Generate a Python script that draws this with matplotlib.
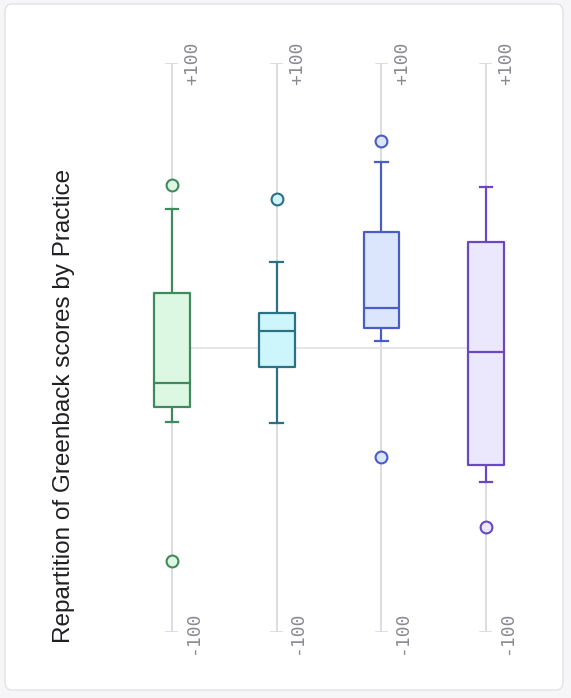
import matplotlib
matplotlib.use("Agg")
import matplotlib.pyplot as plt
from matplotlib.patches import FancyBboxPatch

# box statistics (scores, -100..+100)
practices = ["Practice A", "Practice B", "Practice C", "Practice D"]
q1 = [-20.8, -7.0, 6.7, -41.3]
med = [-12.6, 5.7, 13.8, -1.5]
q3 = [19.3, 12.0, 40.7, 37.0]
whislo = [-26.3, -26.4, 2.3, -47.4]
whishi = [48.6, 30.0, 65.3, 56.3]
fliers = [[57.0, -75.0], [52.2], [72.6, -38.5], [-63.0]]
tick_labels = ["-100", "+100"]

edge_colors = ["#3f8a5c", "#2b7083", "#4a5cc6", "#6a48c2"]
fill_colors = ["#dcf8e3", "#ccf6fc", "#dbe6fc", "#ebe7fd"]

fig = plt.figure(figsize=(5.71, 6.98), dpi=100)
fig.patch.set_facecolor("#f6f6f8")

# card background
card = FancyBboxPatch((5 / 571, 8 / 698), 558 / 571, 686 / 698,
                      boxstyle="round,pad=0,rounding_size=0.012",
                      transform=fig.transFigure, facecolor="white",
                      edgecolor="#e2e2e6", linewidth=1.0, zorder=-5)
fig.patches.append(card)

ax = fig.add_axes([119.7 / 571, 66 / 698, 418.7 / 571, 569 / 698])
ax.set_zorder(2)
ax.set_facecolor("none")
ax.set_xlim(-0.5, 3.5)
ax.set_ylim(-100, 100)
ax.axis("off")

positions = list(range(len(practices)))

# per-practice axis lines with end ticks and labels
for p in positions:
    ax.plot([p, p], [-100, 100], color="#d6d6de", lw=1.2, zorder=1)
    for v, lab in zip([-100, 100], tick_labels):
        ax.plot([p - 0.055, p + 0.05], [v, v], color="#d6d6de", lw=1.2, zorder=1)
        ax.text(p + 0.195, v, lab, rotation=90, ha="center", va="center",
                fontsize=13, family="DejaVu Sans Mono", color="#8a8a92")

# zero line joining the groups
ax.plot([positions[0], positions[-1]], [0, 0], color="#e2e2e6", lw=1.2, zorder=1)

stats = []
for i in positions:
    stats.append(dict(q1=q1[i], med=med[i], q3=q3[i], whislo=whislo[i],
                      whishi=whishi[i], fliers=fliers[i], label=practices[i]))

for i, st in enumerate(stats):
    ec = edge_colors[i]
    fc = fill_colors[i]
    parts = ax.bxp([st], positions=[i], widths=0.34, patch_artist=True,
                   showfliers=True, manage_ticks=False,
                   boxprops=dict(facecolor=fc, edgecolor=ec, linewidth=1.6,
                                 joinstyle="round", zorder=3),
                   medianprops=dict(color=ec, linewidth=1.6, zorder=4),
                   whiskerprops=dict(color=ec, linewidth=1.6, zorder=2),
                   capprops=dict(color=ec, linewidth=1.6, zorder=2),
                   capwidths=0.12,
                   flierprops=dict(marker="o", markersize=8.5, markerfacecolor=fc,
                                   markeredgecolor=ec, markeredgewidth=1.5))

fig.text(64 / 571, 1 - 406 / 698, "Repartition of Greenback scores by Practice",
         rotation=90, ha="center", va="center", fontsize=17.5,
         family="Liberation Sans", color="#1f1f24")

fig.savefig("out.png", dpi=100, facecolor=fig.get_facecolor())
